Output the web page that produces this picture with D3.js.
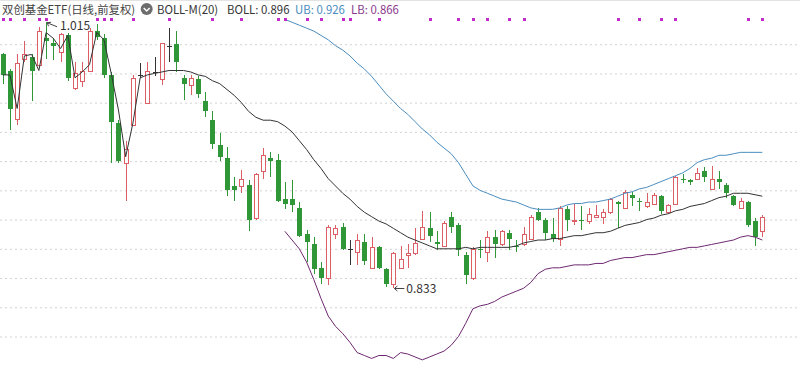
<!DOCTYPE html>
<html>
<head>
<meta charset="utf-8">
<script src="https://cdn.jsdelivr.net/npm/d3@7"></script>
<style>
  body { margin: 0; background: #fff; }
  svg { display: block; font-family: "Noto Sans CJK SC", "Noto Sans", sans-serif; }
</style>
</head>
<body>
<svg id="chart" width="800" height="378"></svg>
<script>
// daily OHLC, 106 sessions
var opens = [
  0.993,0.982,0.949,0.990,0.991,0.986,1.004,1.001,0.995,1.006,
  0.970,0.975,0.982,1.009,1.004,0.979,0.946,0.919,0.945,0.979,
  0.960,0.981,0.976,0.999,1.000,0.977,0.972,0.976,0.961,0.948,
  0.931,0.922,0.903,0.903,0.904,0.881,0.913,0.922,0.921,0.894,
  0.894,0.888,0.870,0.863,0.847,0.840,0.870,0.875,0.860,0.858,
  0.865,0.847,0.861,0.846,0.836,0.847,0.856,0.857,0.867,0.874,
  0.865,0.862,0.882,0.876,0.856,0.840,0.860,0.858,0.868,0.863,
  0.871,0.862,0.863,0.867,0.885,0.880,0.870,0.867,0.887,0.879,
  0.880,0.879,0.882,0.882,0.885,0.892,0.888,0.897,0.893,0.889,
  0.891,0.896,0.885,0.891,0.908,0.907,0.908,0.913,0.901,0.908,
  0.904,0.896,0.888,0.892,0.879,0.872
];
var highs = [
  0.994,0.983,0.993,1.002,0.993,1.012,1.015,1.004,1.008,1.008,
  0.988,0.988,1.011,1.014,1.007,0.981,0.948,0.934,0.979,0.987,
  0.988,0.991,1.001,1.011,1.009,0.979,0.979,0.978,0.967,0.954,
  0.939,0.930,0.909,0.914,0.907,0.912,0.929,0.926,0.925,0.906,
  0.907,0.892,0.873,0.868,0.851,0.876,0.876,0.878,0.866,0.870,
  0.870,0.868,0.862,0.847,0.858,0.862,0.863,0.874,0.886,0.885,
  0.872,0.879,0.885,0.878,0.858,0.861,0.866,0.872,0.873,0.873,
  0.873,0.866,0.875,0.883,0.888,0.881,0.881,0.889,0.889,0.891,
  0.889,0.888,0.890,0.887,0.895,0.893,0.900,0.899,0.895,0.898,
  0.898,0.897,0.891,0.910,0.911,0.908,0.915,0.916,0.917,0.913,
  0.905,0.897,0.895,0.893,0.881,0.883
];
var lows = [
  0.973,0.941,0.945,0.988,0.961,0.984,0.990,0.989,0.988,0.975,
  0.969,0.971,0.981,1.003,0.977,0.919,0.919,0.893,0.944,0.977,
  0.959,0.978,0.972,0.988,0.981,0.962,0.965,0.963,0.950,0.928,
  0.920,0.896,0.893,0.898,0.872,0.880,0.908,0.909,0.892,0.887,
  0.885,0.868,0.851,0.843,0.836,0.835,0.867,0.859,0.849,0.849,
  0.849,0.846,0.846,0.834,0.833,0.846,0.847,0.856,0.866,0.865,
  0.859,0.861,0.871,0.855,0.836,0.839,0.854,0.851,0.854,0.862,
  0.859,0.858,0.862,0.866,0.879,0.866,0.865,0.862,0.872,0.876,
  0.873,0.877,0.881,0.877,0.884,0.874,0.887,0.889,0.886,0.888,
  0.890,0.884,0.884,0.890,0.905,0.904,0.907,0.906,0.900,0.901,
  0.895,0.889,0.887,0.875,0.862,0.868
];
var closes = [
  0.979,0.956,0.987,0.993,0.982,1.009,1.002,0.999,1.007,0.977,
  0.980,0.982,1.009,1.005,0.979,0.947,0.920,0.928,0.977,0.979,
  0.982,0.981,1.001,0.999,0.988,0.973,0.977,0.966,0.954,0.932,
  0.923,0.900,0.900,0.908,0.880,0.911,0.924,0.920,0.893,0.891,
  0.890,0.869,0.865,0.846,0.840,0.875,0.874,0.860,0.860,0.866,
  0.852,0.861,0.847,0.836,0.857,0.853,0.857,0.864,0.875,0.869,
  0.863,0.878,0.875,0.859,0.842,0.860,0.859,0.868,0.863,0.872,
  0.867,0.861,0.870,0.882,0.880,0.871,0.867,0.888,0.880,0.880,
  0.879,0.884,0.883,0.885,0.894,0.891,0.899,0.895,0.892,0.892,
  0.897,0.886,0.890,0.909,0.907,0.906,0.912,0.909,0.908,0.906,
  0.898,0.890,0.893,0.876,0.868,0.882
];

// BOLL mid line, all sessions
var bollMid = [
  0.979,0.979,0.956,0.992,0.993,0.982,1.008,1.004,0.997,1.006,
  0.977,0.981,0.986,1.008,1.003,0.980,0.955,0.923,0.946,0.977,
  0.979,0.980,0.981,0.982,0.982,0.982,0.981,0.979,0.978,0.975,
  0.973,0.969,0.965,0.960,0.954,0.950,0.948,0.948,0.947,0.944,
  0.940,0.934,0.928,0.921,0.915,0.908,0.903,0.898,0.894,0.889,
  0.885,0.882,0.879,0.877,0.874,0.871,0.868,0.866,0.864,0.862,
  0.860,0.860,0.860,0.860,0.861,0.860,0.861,0.861,0.861,0.861,
  0.861,0.862,0.864,0.865,0.866,0.866,0.867,0.867,0.868,0.869,
  0.869,0.870,0.871,0.871,0.872,0.874,0.876,0.877,0.878,0.880,
  0.881,0.883,0.884,0.886,0.887,0.889,0.890,0.891,0.893,0.895,
  0.896,0.898,0.898,0.898,0.897,0.896
];
// upper / lower bands are only drawn from session 40 on
var bandStart = 39;
var bollUpper = [
  1.017,1.015,1.013,1.011,1.009,1.006,1.003,0.999,0.996,0.992,
  0.987,0.983,0.978,0.972,0.966,0.961,0.956,0.952,0.947,0.942,
  0.938,0.933,0.929,0.925,0.919,0.911,0.903,0.900,0.898,0.896,
  0.894,0.893,0.892,0.890,0.888,0.887,0.887,0.887,0.888,0.890,
  0.891,0.891,0.892,0.892,0.893,0.894,0.896,0.898,0.899,0.901,
  0.902,0.904,0.906,0.908,0.910,0.912,0.915,0.919,0.921,0.922,
  0.924,0.924,0.925,0.926,0.926,0.926,0.926
];
var bollLower = [
  0.872,0.866,0.860,0.851,0.839,0.826,0.814,0.807,0.802,0.796,
  0.789,0.787,0.785,0.787,0.787,0.785,0.789,0.788,0.786,0.784,
  0.786,0.788,0.790,0.794,0.800,0.809,0.819,0.821,0.822,0.824,
  0.827,0.829,0.831,0.833,0.837,0.843,0.846,0.847,0.847,0.848,
  0.849,0.849,0.849,0.850,0.850,0.852,0.853,0.854,0.854,0.855,
  0.856,0.856,0.857,0.858,0.859,0.860,0.861,0.861,0.862,0.863,
  0.864,0.865,0.866,0.868,0.869,0.868,0.866
];
// sessions with an event marker (magenta dots along the top)
var markerDays = [0,1,3,5,6,13,14,15,18,23,29,33,38,39,42,44,47,48,52,
                  59,63,65,67,70,72,85,88,91,93,103,105];
var gridTicks = [0.80,0.82,0.84,0.86,0.88,0.90,0.92,0.94,0.96,0.98,1.00];
var titleText = "双创基金ETF(日线,前复权)";
var indicatorName = "BOLL-M(20)";

var width = 800, height = 378;
var red = "#dc5f66", green = "#2f9738", flat = "#333";

var svg = d3.select("#chart");
svg.append("rect").attr("width", width).attr("height", height).attr("fill", "#fff");
svg.append("line").attr("x1", 0).attr("x2", width).attr("y1", 0.5).attr("y2", 0.5)
    .attr("stroke", "#e3e3e3");

var days = d3.range(opens.length);
var x = d3.scalePoint().domain(days).range([2.7, 762.3]);
var y = d3.scaleLinear().domain([0.80, 1.00]).range([336.5, 44.2]);

// dashed horizontal grid
var grid = svg.append("g")
    .attr("class", "grid")
    .call(d3.axisLeft(y).tickValues(gridTicks).tickSize(-width).tickFormat(""));
grid.select(".domain").remove();
grid.selectAll("line").attr("stroke", "#d2d2d2").attr("stroke-dasharray", "2,3");

// candles
var candle = svg.append("g").selectAll("g")
    .data(days)
  .enter().append("g");

function cx(i) { return Math.round(x(i)) + 0.5; }
function colorOf(i) {
    if (closes[i] === opens[i]) return flat;
    return closes[i] > opens[i] ? red : green;
}

candle.append("line")
    .attr("x1", cx).attr("x2", cx)
    .attr("y1", function (i) { return Math.round(y(highs[i])); })
    .attr("y2", function (i) { return Math.round(y(lows[i])); })
    .attr("stroke", colorOf);

candle.each(function (i) {
    var g = d3.select(this);
    var c = cx(i);
    var top = Math.round(y(Math.max(opens[i], closes[i])));
    var bot = Math.round(y(Math.min(opens[i], closes[i])));
    if (closes[i] === opens[i]) {
        g.append("line").attr("x1", c - 2.5).attr("x2", c + 2.5)
            .attr("y1", top + 0.5).attr("y2", top + 0.5).attr("stroke", flat);
    } else if (closes[i] > opens[i]) {
        g.append("rect").attr("x", c - 2).attr("width", 4)
            .attr("y", top + 0.5).attr("height", Math.max(bot - top, 1))
            .attr("fill", "#fff").attr("stroke", red);
    } else {
        g.append("rect").attr("x", c - 2.5).attr("width", 5)
            .attr("y", top).attr("height", Math.max(bot - top, 1))
            .attr("fill", green);
    }
});

// BOLL lines
var line = d3.line()
    .x(function (d) { return x(d.i); })
    .y(function (d) { return y(d.v); });

svg.append("path")
    .datum(bollMid.map(function (v, i) { return { i: i, v: v }; }))
    .attr("fill", "none").attr("stroke", "#333").attr("stroke-width", 1)
    .attr("d", line);
svg.append("path")
    .datum(bollUpper.map(function (v, k) { return { i: bandStart + k, v: v }; }))
    .attr("fill", "none").attr("stroke", "#4a8dbf").attr("stroke-width", 1)
    .attr("d", line);
svg.append("path")
    .datum(bollLower.map(function (v, k) { return { i: bandStart + k, v: v }; }))
    .attr("fill", "none").attr("stroke", "#6e2870").attr("stroke-width", 1)
    .attr("d", line);

// event markers
svg.append("g").selectAll("rect")
    .data(markerDays)
  .enter().append("rect")
    .attr("x", function (i) { return Math.round(x(i)) - 1; })
    .attr("y", 18)
    .attr("width", 3).attr("height", 3)
    .attr("fill", "#c22bc8");

// high / low callouts
var fmt = d3.format(".3f");
var hi = d3.maxIndex(highs), lo = d3.minIndex(lows);
var hx = x(hi), hy = y(highs[hi]);
svg.append("path")
    .attr("d", "M" + (hx + 1) + "," + (hy + 0.5) + "L" + (hx + 11) + "," + (hy + 4.5) +
        "M" + (hx + 1) + "," + (hy + 0.5) + "l4,-0.5M" + (hx + 1) + "," + (hy + 0.5) + "l1.5,3.5")
    .attr("fill", "none").attr("stroke", "#444");
svg.append("text").attr("x", hx + 14).attr("y", hy + 8)
    .attr("font-size", 12).attr("fill", "#333").text(fmt(highs[hi]));

var lx = x(lo), ly = Math.round(y(lows[lo])) + 0.5;
svg.append("path")
    .attr("d", "M" + (lx + 1) + "," + ly + "H" + (lx + 11) +
        "M" + (lx + 1) + "," + ly + "l3,-2.5M" + (lx + 1) + "," + ly + "l3,2.5")
    .attr("fill", "none").attr("stroke", "#444");
svg.append("text").attr("x", lx + 13).attr("y", ly + 4.5)
    .attr("font-size", 12).attr("fill", "#333").text(fmt(lows[lo]));

// header
var head = svg.append("g").attr("font-size", 11.4);
head.append("text").attr("x", 2).attr("y", 13.5).attr("fill", "#444").text(titleText);
head.append("circle").attr("cx", 146.7).attr("cy", 9).attr("r", 6).attr("fill", "#6d6d6d");
head.append("path").attr("d", "M143.7,8L146.7,11L149.7,8")
    .attr("fill", "none").attr("stroke", "#fff").attr("stroke-width", 1.5);
head.append("text").attr("x", 157).attr("y", 13.5).attr("fill", "#333").text(indicatorName);
head.append("text").attr("x", 227).attr("y", 13.5).attr("fill", "#333")
    .text("BOLL: " + fmt(bollMid[bollMid.length - 1]));
head.append("text").attr("x", 295).attr("y", 13.5).attr("fill", "#4a8dbf")
    .text("UB: " + fmt(bollUpper[bollUpper.length - 1]));
head.append("text").attr("x", 351).attr("y", 13.5).attr("fill", "#8a3a8c")
    .text("LB: " + fmt(bollLower[bollLower.length - 1]));
</script>
</body>
</html>
